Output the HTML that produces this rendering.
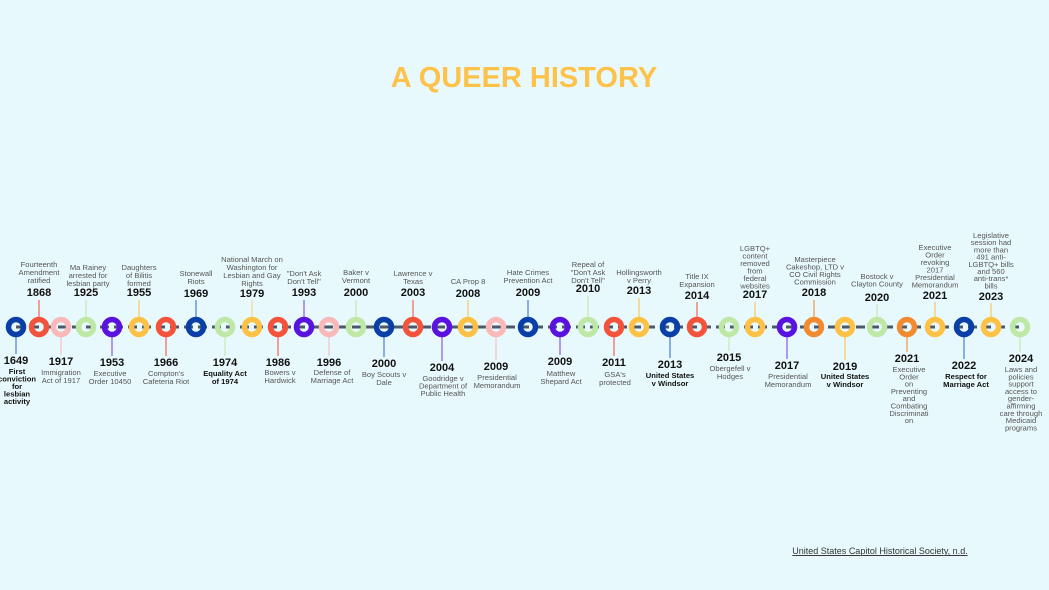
<!DOCTYPE html>
<html><head><meta charset="utf-8"><style>
html,body{margin:0;padding:0;background:#e8f9fd;}
svg{display:block;font-family:"Liberation Sans",Arial,sans-serif;}
.y{font-size:11px;font-weight:bold;fill:#111;text-anchor:middle}
.l{font-size:7.6px;fill:#555;text-anchor:middle}
.b{font-size:7.6px;fill:#111;font-weight:bold;text-anchor:middle}
</style></head><body>
<svg width="1049" height="590" viewBox="0 0 1049 590">
<rect width="1049" height="590" fill="#e8f9fd"/>
<text x="524" y="87" text-anchor="middle" font-size="29" font-weight="bold" fill="#fcc24a">A QUEER HISTORY</text>
<line x1="16" y1="327" x2="1020" y2="327" stroke="#4a5868" stroke-width="3" stroke-dasharray="9,5"/>
<g stroke-width="1.5" opacity="0.7">
<line x1="16" y1="336" x2="16" y2="354" stroke="#2b6fd0"/>
<line x1="39" y1="300" x2="39" y2="318" stroke="#f4533b"/>
<line x1="61" y1="336" x2="61" y2="355" stroke="#f9b9b9"/>
<line x1="86" y1="300" x2="86" y2="318" stroke="#bfe8a6"/>
<line x1="112" y1="336" x2="112" y2="356" stroke="#7a40f0"/>
<line x1="139" y1="300" x2="139" y2="318" stroke="#fcc145"/>
<line x1="166" y1="336" x2="166" y2="356" stroke="#f4533b"/>
<line x1="196" y1="300" x2="196" y2="318" stroke="#2b6fd0"/>
<line x1="225" y1="336" x2="225" y2="356" stroke="#bfe8a6"/>
<line x1="252" y1="300" x2="252" y2="318" stroke="#fcd27a"/>
<line x1="278" y1="336" x2="278" y2="356" stroke="#f4533b"/>
<line x1="304" y1="300" x2="304" y2="318" stroke="#7a40f0"/>
<line x1="329" y1="336" x2="329" y2="356" stroke="#f9b9b9"/>
<line x1="356" y1="300" x2="356" y2="318" stroke="#bfe8a6"/>
<line x1="384" y1="336" x2="384" y2="357" stroke="#2b6fd0"/>
<line x1="413" y1="300" x2="413" y2="318" stroke="#f4533b"/>
<line x1="442" y1="336" x2="442" y2="361" stroke="#7a40f0"/>
<line x1="468" y1="300" x2="468" y2="318" stroke="#fcc145"/>
<line x1="496" y1="336" x2="496" y2="360" stroke="#f9b9b9"/>
<line x1="528" y1="300" x2="528" y2="318" stroke="#2b6fd0"/>
<line x1="560" y1="336" x2="560" y2="355" stroke="#7a40f0"/>
<line x1="588" y1="296" x2="588" y2="318" stroke="#bfe8a6"/>
<line x1="614" y1="336" x2="614" y2="356" stroke="#f4533b"/>
<line x1="639" y1="298" x2="639" y2="318" stroke="#fcc145"/>
<line x1="670" y1="336" x2="670" y2="358" stroke="#2b6fd0"/>
<line x1="697" y1="302" x2="697" y2="318" stroke="#f4533b"/>
<line x1="729" y1="336" x2="729" y2="351" stroke="#bfe8a6"/>
<line x1="755" y1="302" x2="755" y2="318" stroke="#fcc145"/>
<line x1="787" y1="336" x2="787" y2="359" stroke="#7a40f0"/>
<line x1="814" y1="300" x2="814" y2="318" stroke="#f28a30"/>
<line x1="845" y1="336" x2="845" y2="360" stroke="#fcc145"/>
<line x1="877" y1="304" x2="877" y2="318" stroke="#bfe8a6"/>
<line x1="907" y1="336" x2="907" y2="352" stroke="#f28a30"/>
<line x1="935" y1="302" x2="935" y2="318" stroke="#fcc145"/>
<line x1="964" y1="336" x2="964" y2="359" stroke="#2b6fd0"/>
<line x1="991" y1="303" x2="991" y2="318" stroke="#fcc145"/>
<line x1="1020" y1="336" x2="1020" y2="352" stroke="#bfe8a6"/>
</g>
<g fill="none" stroke-width="5.5">
<circle cx="16" cy="327" r="7.5" stroke="#0a3fa8"/>
<circle cx="39" cy="327" r="7.5" stroke="#f4533b"/>
<circle cx="61" cy="327" r="7.5" stroke="#f9b9b9"/>
<circle cx="86" cy="327" r="7.5" stroke="#bfe8a6"/>
<circle cx="112" cy="327" r="7.5" stroke="#5a12e0"/>
<circle cx="139" cy="327" r="7.5" stroke="#fcc145"/>
<circle cx="166" cy="327" r="7.5" stroke="#f4533b"/>
<circle cx="196" cy="327" r="7.5" stroke="#0a3fa8"/>
<circle cx="225" cy="327" r="7.5" stroke="#bfe8a6"/>
<circle cx="252" cy="327" r="7.5" stroke="#fcc145"/>
<circle cx="278" cy="327" r="7.5" stroke="#f4533b"/>
<circle cx="304" cy="327" r="7.5" stroke="#5a12e0"/>
<circle cx="329" cy="327" r="7.5" stroke="#f9b9b9"/>
<circle cx="356" cy="327" r="7.5" stroke="#bfe8a6"/>
<circle cx="384" cy="327" r="7.5" stroke="#0a3fa8"/>
<circle cx="413" cy="327" r="7.5" stroke="#f4533b"/>
<circle cx="442" cy="327" r="7.5" stroke="#5a12e0"/>
<circle cx="468" cy="327" r="7.5" stroke="#fcc145"/>
<circle cx="496" cy="327" r="7.5" stroke="#f9b9b9"/>
<circle cx="528" cy="327" r="7.5" stroke="#0a3fa8"/>
<circle cx="560" cy="327" r="7.5" stroke="#5a12e0"/>
<circle cx="588" cy="327" r="7.5" stroke="#bfe8a6"/>
<circle cx="614" cy="327" r="7.5" stroke="#f4533b"/>
<circle cx="639" cy="327" r="7.5" stroke="#fcc145"/>
<circle cx="670" cy="327" r="7.5" stroke="#0a3fa8"/>
<circle cx="697" cy="327" r="7.5" stroke="#f4533b"/>
<circle cx="729" cy="327" r="7.5" stroke="#bfe8a6"/>
<circle cx="755" cy="327" r="7.5" stroke="#fcc145"/>
<circle cx="787" cy="327" r="7.5" stroke="#5a12e0"/>
<circle cx="814" cy="327" r="7.5" stroke="#f28a30"/>
<circle cx="845" cy="327" r="7.5" stroke="#fcc145"/>
<circle cx="877" cy="327" r="7.5" stroke="#bfe8a6"/>
<circle cx="907" cy="327" r="7.5" stroke="#f28a30"/>
<circle cx="935" cy="327" r="7.5" stroke="#fcc145"/>
<circle cx="964" cy="327" r="7.5" stroke="#0a3fa8"/>
<circle cx="991" cy="327" r="7.5" stroke="#fcc145"/>
<circle cx="1020" cy="327" r="7.5" stroke="#bfe8a6"/>
</g>
<!-- UP -->
<text class="y" x="39" y="296">1868</text>
<text class="l" x="39" y="267">Fourteenth<tspan x="39" dy="8">Amendment</tspan><tspan x="39" dy="8">ratified</tspan></text>
<text class="y" x="86" y="296">1925</text>
<text class="l" x="88" y="270">Ma Rainey<tspan x="88" dy="8">arrested for</tspan><tspan x="88" dy="8">lesbian party</tspan></text>
<text class="y" x="139" y="296">1955</text>
<text class="l" x="139" y="270">Daughters<tspan x="139" dy="8">of Bilitis</tspan><tspan x="139" dy="8">formed</tspan></text>
<text class="y" x="196" y="297">1969</text>
<text class="l" x="196" y="276">Stonewall<tspan x="196" dy="8">Riots</tspan></text>
<text class="y" x="252" y="297">1979</text>
<text class="l" x="252" y="262">National March on<tspan x="252" dy="8">Washington for</tspan><tspan x="252" dy="8">Lesbian and Gay</tspan><tspan x="252" dy="8">Rights</tspan></text>
<text class="y" x="304" y="296">1993</text>
<text class="l" x="304" y="276">"Don't Ask<tspan x="304" dy="8">Don't Tell"</tspan></text>
<text class="y" x="356" y="296">2000</text>
<text class="l" x="356" y="275">Baker v<tspan x="356" dy="8">Vermont</tspan></text>
<text class="y" x="413" y="296">2003</text>
<text class="l" x="413" y="276">Lawrence v<tspan x="413" dy="8">Texas</tspan></text>
<text class="y" x="468" y="297">2008</text>
<text class="l" x="468" y="284">CA Prop 8</text>
<text class="y" x="528" y="296">2009</text>
<text class="l" x="528" y="275">Hate Crimes<tspan x="528" dy="8">Prevention Act</tspan></text>
<text class="y" x="588" y="292">2010</text>
<text class="l" x="588" y="267">Repeal of<tspan x="588" dy="8">"Don't Ask</tspan><tspan x="588" dy="8">Don't Tell"</tspan></text>
<text class="y" x="639" y="294">2013</text>
<text class="l" x="639" y="275">Hollingsworth<tspan x="639" dy="8">v Perry</tspan></text>
<text class="y" x="697" y="299">2014</text>
<text class="l" x="697" y="279">Title IX<tspan x="697" dy="8">Expansion</tspan></text>
<text class="y" x="755" y="298">2017</text>
<text class="l" x="755" y="251">LGBTQ+<tspan x="755" dy="7.5">content</tspan><tspan x="755" dy="7.5">removed</tspan><tspan x="755" dy="7.5">from</tspan><tspan x="755" dy="7.5">federal</tspan><tspan x="755" dy="7.5">websites</tspan></text>
<text class="y" x="814" y="296">2018</text>
<text class="l" x="815" y="262">Masterpiece<tspan x="815" dy="7.5">Cakeshop, LTD v</tspan><tspan x="815" dy="7.5">CO Civil Rights</tspan><tspan x="815" dy="7.5">Commission</tspan></text>
<text class="y" x="877" y="301">2020</text>
<text class="l" x="877" y="279">Bostock v<tspan x="877" dy="7.5">Clayton County</tspan></text>
<text class="y" x="935" y="299">2021</text>
<text class="l" x="935" y="250">Executive<tspan x="935" dy="7.5">Order</tspan><tspan x="935" dy="7.5">revoking</tspan><tspan x="935" dy="7.5">2017</tspan><tspan x="935" dy="7.5">Presidential</tspan><tspan x="935" dy="7.5">Memorandum</tspan></text>
<text class="y" x="991" y="300">2023</text>
<text class="l" x="991" y="238">Legislative<tspan x="991" dy="7.2">session had</tspan><tspan x="991" dy="7.2">more than</tspan><tspan x="991" dy="7.2">491 anti-</tspan><tspan x="991" dy="7.2">LGBTQ+ bills</tspan><tspan x="991" dy="7.2">and 560</tspan><tspan x="991" dy="7.2">anti-trans*</tspan><tspan x="991" dy="7.2">bills</tspan></text>
<!-- DOWN -->
<text class="y" x="16" y="364">1649</text>
<text class="b" x="17" y="374">First<tspan x="17" dy="7.5">conviction</tspan><tspan x="17" dy="7.5">for</tspan><tspan x="17" dy="7.5">lesbian</tspan><tspan x="17" dy="7.5">activity</tspan></text>
<text class="y" x="61" y="365">1917</text>
<text class="l" x="61" y="375">Immigration<tspan x="61" dy="8">Act of 1917</tspan></text>
<text class="y" x="112" y="366">1953</text>
<text class="l" x="110" y="376">Executive<tspan x="110" dy="8">Order 10450</tspan></text>
<text class="y" x="166" y="366">1966</text>
<text class="l" x="166" y="376">Compton's<tspan x="166" dy="8">Cafeteria Riot</tspan></text>
<text class="y" x="225" y="366">1974</text>
<text class="b" x="225" y="376">Equality Act<tspan x="225" dy="8">of 1974</tspan></text>
<text class="y" x="278" y="366">1986</text>
<text class="l" x="280" y="375">Bowers v<tspan x="280" dy="8">Hardwick</tspan></text>
<text class="y" x="329" y="366">1996</text>
<text class="l" x="332" y="375">Defense of<tspan x="332" dy="8">Marriage Act</tspan></text>
<text class="y" x="384" y="367">2000</text>
<text class="l" x="384" y="377">Boy Scouts v<tspan x="384" dy="8">Dale</tspan></text>
<text class="y" x="442" y="371">2004</text>
<text class="l" x="443" y="381">Goodridge v<tspan x="443" dy="7.5">Department of</tspan><tspan x="443" dy="7.5">Public Health</tspan></text>
<text class="y" x="496" y="370">2009</text>
<text class="l" x="497" y="380">Presidential<tspan x="497" dy="8">Memorandum</tspan></text>
<text class="y" x="560" y="365">2009</text>
<text class="l" x="561" y="376">Matthew<tspan x="561" dy="8">Shepard Act</tspan></text>
<text class="y" x="614" y="366">2011</text>
<text class="l" x="615" y="377">GSA's<tspan x="615" dy="8">protected</tspan></text>
<text class="y" x="670" y="368">2013</text>
<text class="b" x="670" y="378">United States<tspan x="670" dy="8">v Windsor</tspan></text>
<text class="y" x="729" y="361">2015</text>
<text class="l" x="730" y="371">Obergefell v<tspan x="730" dy="8">Hodges</tspan></text>
<text class="y" x="787" y="369">2017</text>
<text class="l" x="788" y="379">Presidential<tspan x="788" dy="8">Memorandum</tspan></text>
<text class="y" x="845" y="370">2019</text>
<text class="b" x="845" y="379">United States<tspan x="845" dy="8">v Windsor</tspan></text>
<text class="y" x="907" y="362">2021</text>
<text class="l" x="909" y="372">Executive<tspan x="909" dy="7.3">Order</tspan><tspan x="909" dy="7.3">on</tspan><tspan x="909" dy="7.3">Preventing</tspan><tspan x="909" dy="7.3">and</tspan><tspan x="909" dy="7.3">Combating</tspan><tspan x="909" dy="7.3">Discriminati</tspan><tspan x="909" dy="7.3">on</tspan></text>
<text class="y" x="964" y="369">2022</text>
<text class="b" x="966" y="379">Respect for<tspan x="966" dy="8">Marriage Act</tspan></text>
<text class="y" x="1021" y="362">2024</text>
<text class="l" x="1021" y="372">Laws and<tspan x="1021" dy="7.3">policies</tspan><tspan x="1021" dy="7.3">support</tspan><tspan x="1021" dy="7.3">access to</tspan><tspan x="1021" dy="7.3">gender-</tspan><tspan x="1021" dy="7.3">affirming</tspan><tspan x="1021" dy="7.3">care through</tspan><tspan x="1021" dy="7.3">Medicaid</tspan><tspan x="1021" dy="7.3">programs</tspan></text>
<text x="880" y="554" text-anchor="middle" font-size="9" fill="#333" text-decoration="underline">United States Capitol Historical Society, n.d.</text>
<line x1="796" y1="555.5" x2="965" y2="555.5" stroke="#333" stroke-width="0.7"/>
</svg>
</body></html>
